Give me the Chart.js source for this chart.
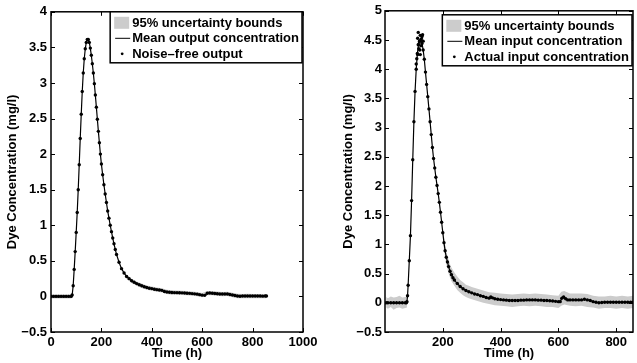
<!DOCTYPE html>
<html>
<head>
<meta charset="utf-8">
<script src="https://cdn.jsdelivr.net/npm/chart.js@4.4.1/dist/chart.umd.min.js"></script>
<style>
  html, body { margin: 0; padding: 0; background: #fff; }
  #wrap { position: relative; width: 637px; height: 363px; overflow: hidden; }
  canvas { position: absolute; top: 0; }
  #left { left: 0; }
  #right { left: 330px; }
</style>
</head>
<body>
<div id="wrap">
  <canvas id="left" width="330" height="363"></canvas>
  <canvas id="right" width="307" height="363"></canvas>
</div>
<script>
// ---- left panel: output concentration ----
const leftT = [0,10,20,30,40,50,60,70,80,84,88,92,96,100,104,108,112,116,120,124,128,132,136,140,144,148,152,156,160,164,168,172,176,180,184,188,192,196,200,205,210,215,220,225,230,235,240,245,250,255,260,270,280,290,300,310,320,330,340,350,360,370,380,390,400,410,420,430,440,450,460,470,480,490,500,510,520,530,540,550,560,570,580,590,600,610,620,630,640,650,660,670,680,690,700,710,720,730,740,750,760,770,780,790,800,810,820,830,840,850,855];
const leftMean = [0,0,0,0,0,0,0,0,0,0.02,0.15,0.38,0.63,0.90,1.18,1.50,1.85,2.22,2.56,2.88,3.14,3.34,3.48,3.57,3.61,3.61,3.57,3.49,3.39,3.27,3.14,2.99,2.83,2.66,2.49,2.32,2.16,2.00,1.86,1.71,1.57,1.44,1.32,1.20,1.10,1.00,0.91,0.82,0.74,0.66,0.59,0.48,0.39,0.33,0.28,0.25,0.22,0.20,0.18,0.165,0.15,0.135,0.125,0.115,0.11,0.10,0.095,0.09,0.085,0.07,0.063,0.058,0.055,0.054,0.053,0.052,0.05,0.048,0.045,0.043,0.04,0.036,0.032,0.025,0.018,0.015,0.045,0.048,0.045,0.042,0.038,0.035,0.033,0.033,0.035,0.028,0.02,0.012,0.006,0.003,0.005,0.005,0.006,0.005,0.005,0.006,0.005,0.005,0.004,0.005,0.005];
// noise-free output sits on the mean curve
const leftNoiseFree = leftMean;
const leftBandT1 = [0,20,40,60,80,84];
const leftBandHi1 = [0.03,0.03,0.03,0.03,0.03,0.05];
const leftBandLo1 = [-0.03,-0.03,-0.03,-0.03,-0.03,-0.02];
const leftBandT2 = [300,320,340,360,380,400,420,440,460,480,500,520,540,560,580,600,620,640,660,680,700,720,740,760,780,800,820,840,855];
const leftBandHi2 = [0.31,0.25,0.21,0.18,0.155,0.14,0.125,0.115,0.093,0.085,0.083,0.08,0.075,0.07,0.062,0.048,0.075,0.075,0.068,0.063,0.065,0.05,0.036,0.035,0.036,0.035,0.035,0.034,0.035];
const leftBandLo2 = [0.25,0.19,0.15,0.12,0.095,0.08,0.065,0.055,0.033,0.025,0.023,0.02,0.015,0.01,0.002,-0.012,0.015,0.015,0.008,0.003,0.005,-0.01,-0.024,-0.025,-0.024,-0.025,-0.025,-0.026,-0.025];
const leftXTicks = [0,200,400,600,800,1000];
const leftYTicks = [-0.5,0,0.5,1,1.5,2,2.5,3,3.5,4];
const leftLegend = ['95% uncertainty bounds','Mean output concentration','Noise\u2013free output'];

// ---- right panel: input concentration ----
const rightT = [4,10,20,30,40,50,60,70,74,76,78,80,84,88,92,96,100,104,108,112,116,120,124,128,132,136,140,144,148,152,156,160,164,168,172,176,180,184,188,192,196,200,204,208,212,216,220,225,230,235,240,250,260,270,280,290,300,310,320,330,340,350,360,366,372,380,390,400,410,420,430,440,450,460,470,480,490,500,510,520,530,540,550,560,570,580,590,600,606,612,618,625,632,640,650,660,670,680,690,700,710,720,730,740,750,760,770,780,790,800,810,820,830,840,850,858];
const rightMean = [0,0,0,0,0,0,0,0,0,0.02,0.12,0.30,0.72,1.15,1.75,2.45,3.10,3.62,4.00,4.27,4.42,4.49,4.49,4.44,4.33,4.17,3.95,3.74,3.53,3.32,3.10,2.88,2.66,2.47,2.31,2.15,2.01,1.87,1.72,1.55,1.38,1.20,1.03,0.89,0.78,0.70,0.62,0.54,0.48,0.43,0.39,0.33,0.28,0.24,0.21,0.19,0.17,0.15,0.14,0.12,0.11,0.09,0.08,0.10,0.085,0.07,0.06,0.055,0.05,0.045,0.04,0.04,0.04,0.04,0.045,0.045,0.05,0.05,0.05,0.05,0.045,0.045,0.04,0.04,0.035,0.03,0.025,0.02,0.02,0.08,0.10,0.07,0.05,0.05,0.05,0.05,0.05,0.05,0.06,0.05,0.04,0.02,0.01,0.0,0.005,0.01,0.01,0.01,0.01,0.01,0.01,0.01,0.01,0.01,0.01,0.01];
// extra scattered samples of the actual input around the peak
const rightPeakT = [108,110,113,113,115,115,117,119,120,122,122,124,126,128,130,132];
const rightPeakV = [4.09,4.18,4.53,4.25,4.63,4.42,4.35,4.47,4.33,4.58,4.25,4.40,4.52,4.56,4.59,4.48];
const rightBandT1 = [4,10,20,30,40,50,60,70,76];
const rightBandHi1 = [0.10,0.08,0.11,0.09,0.10,0.12,0.09,0.10,0.11];
const rightBandLo1 = [-0.08,-0.10,-0.07,-0.12,-0.09,-0.08,-0.10,-0.09,-0.08];
const rightBandT2 = [200,205,210,215,220,225,230,240,250,260,270,280,290,300,320,340,360,380,400,420,440,460,480,500,520,540,560,580,600,610,620,640,660,680,700,720,740,760,780,800,820,840,858];
const rightBandHi2 = [1.30,1.10,0.94,0.82,0.74,0.66,0.60,0.52,0.45,0.39,0.35,0.31,0.29,0.27,0.24,0.21,0.18,0.17,0.16,0.15,0.14,0.15,0.16,0.15,0.16,0.15,0.14,0.13,0.12,0.19,0.20,0.16,0.16,0.16,0.15,0.12,0.11,0.11,0.12,0.11,0.12,0.11,0.12];
const rightBandLo2 = [1.08,0.88,0.72,0.60,0.50,0.43,0.37,0.29,0.22,0.17,0.13,0.10,0.08,0.06,0.03,0.00,-0.02,-0.04,-0.05,-0.06,-0.07,-0.06,-0.05,-0.06,-0.05,-0.06,-0.07,-0.07,-0.09,-0.05,-0.03,-0.05,-0.06,-0.05,-0.07,-0.08,-0.10,-0.09,-0.09,-0.10,-0.09,-0.10,-0.09];
const rightXTicks = [200,400,600,800];
const rightYTicks = [-0.5,0,0.5,1,1.5,2,2.5,3,3.5,4,4.5,5];
const rightLegend = ['95% uncertainty bounds','Mean input concentration','Actual input concentration'];

const FONT = '"Liberation Sans", Arial, Helvetica, sans-serif';
const BAND = '#cccccc';

Chart.defaults.font.family = FONT;
Chart.defaults.font.size = 13;
Chart.defaults.font.weight = 'bold';
Chart.defaults.color = '#000';

const pts = (xs, ys) => xs.map((x, i) => ({x: x, y: ys[i]}));
const fmt = v => v < 0 ? '\u2212' + Math.abs(v) : String(v);

// box round the axes, inward ticks on all four sides, legend in the corner
const frame = {
  id: 'frame',
  afterDraw(chart, args, o) {
    const ctx = chart.ctx, a = chart.chartArea, sx = chart.scales.x, sy = chart.scales.y;
    ctx.save();
    ctx.strokeStyle = '#000';
    ctx.lineWidth = 1;
    ctx.beginPath();
    sx.ticks.forEach(t => {
      const p = Math.round(sx.getPixelForValue(t.value)) + 0.5;
      ctx.moveTo(p, a.bottom); ctx.lineTo(p, a.bottom - 4);
      ctx.moveTo(p, a.top); ctx.lineTo(p, a.top + 4);
    });
    sy.ticks.forEach(t => {
      const p = Math.round(sy.getPixelForValue(t.value)) + 0.5;
      ctx.moveTo(a.left, p); ctx.lineTo(a.left + 4, p);
      ctx.moveTo(a.right, p); ctx.lineTo(a.right - 4, p);
    });
    ctx.stroke();
    ctx.lineWidth = 1.5;
    ctx.strokeRect(a.left, a.top, a.right - a.left, a.bottom - a.top);

    // legend
    ctx.font = 'bold 13px ' + FONT;
    const tw = Math.max(...o.labels.map(t => ctx.measureText(t).width));
    const w = 22 + tw + 3, h = 51;
    const x0 = a.right - 1 - w, y0 = a.top + o.dy;
    ctx.fillStyle = '#fff';
    ctx.fillRect(x0, y0, w, h);
    ctx.lineWidth = 1.5;
    ctx.strokeRect(x0, y0, w, h);
    const rows = [11, 26.5, 42];
    ctx.fillStyle = BAND;
    ctx.fillRect(x0 + 4, y0 + rows[0] - 6, 15, 12);
    ctx.lineWidth = 1;
    ctx.beginPath();
    ctx.moveTo(x0 + 5, y0 + rows[1]); ctx.lineTo(x0 + 20, y0 + rows[1]);
    ctx.stroke();
    ctx.fillStyle = '#000';
    ctx.beginPath();
    ctx.arc(x0 + 12, y0 + rows[2], 1.4, 0, Math.PI * 2);
    ctx.fill();
    ctx.textBaseline = 'middle';
    ctx.textAlign = 'left';
    o.labels.forEach((t, i) => ctx.fillText(t, x0 + 22, y0 + rows[i] + 0.5));
    ctx.restore();
  }
};

function bandPair(xs, hi, lo) {
  return [
    {data: pts(xs, hi), borderColor: 'rgba(0,0,0,0)', borderWidth: 0, pointRadius: 0, fill: '+1', backgroundColor: BAND, tension: 0},
    {data: pts(xs, lo), borderColor: 'rgba(0,0,0,0)', borderWidth: 0, pointRadius: 0, fill: false}
  ];
}

function makeChart(id, cfg) {
  return new Chart(document.getElementById(id), {
    type: 'line',
    data: {
      datasets: [
        {label: cfg.legend[2], data: cfg.dots, showLine: false, pointRadius: 1.7, pointBackgroundColor: '#000', pointBorderWidth: 0},
        {label: cfg.legend[1], data: cfg.mean, borderColor: '#000', borderWidth: 1.2, pointRadius: 0, fill: false},
        ...bandPair(cfg.b1[0], cfg.b1[1], cfg.b1[2]),
        ...bandPair(cfg.b2[0], cfg.b2[1], cfg.b2[2])
      ]
    },
    options: {
      responsive: false,
      animation: false,
      layout: {padding: cfg.pad},
      plugins: {
        legend: {display: false},
        tooltip: {enabled: false},
        frame: {labels: cfg.legend, dy: cfg.legendDy}
      },
      scales: {
        x: {
          type: 'linear',
          min: cfg.xMin, max: cfg.xMax,
          grid: {display: false, drawTicks: false},
          border: {display: false},
          afterBuildTicks: s => { s.ticks = cfg.xTicks.map(v => ({value: v})); },
          afterFit: s => { s.height = 31; },
          ticks: {padding: 3, maxRotation: 0, autoSkip: false, callback: v => fmt(v)},
          title: {display: true, text: 'Time (h)', padding: {top: 0, bottom: 2}}
        },
        y: {
          min: cfg.yMin, max: cfg.yMax,
          grid: {display: false, drawTicks: false},
          border: {display: false},
          afterBuildTicks: s => { s.ticks = cfg.yTicks.map(v => ({value: v})); },
          afterFit: s => { s.width = cfg.yWidth; },
          ticks: {padding: cfg.yPad, autoSkip: false, callback: v => fmt(v)},
          title: {display: true, text: 'Dye Concentration (mg/l)', padding: {top: cfg.yTitlePad, bottom: 0}}
        }
      }
    },
    plugins: [frame]
  });
}

makeChart('left', {
  dots: pts(leftT, leftNoiseFree),
  mean: pts(leftT, leftMean),
  b1: [leftBandT1, leftBandHi1, leftBandLo1],
  b2: [leftBandT2, leftBandHi2, leftBandLo2],
  legend: leftLegend, legendDy: 0,
  xMin: 0, xMax: 1000, xTicks: leftXTicks,
  yMin: -0.5, yMax: 4, yTicks: leftYTicks,
  yWidth: 51, yPad: 4, yTitlePad: 5,
  pad: {left: 0, top: 11, right: 27, bottom: 0}
});

makeChart('right', {
  dots: pts(rightT, rightMean).concat(pts(rightPeakT, rightPeakV)),
  mean: pts(rightT, rightMean),
  b1: [rightBandT1, rightBandHi1, rightBandLo1],
  b2: [rightBandT2, rightBandHi2, rightBandLo2],
  legend: rightLegend, legendDy: 4,
  xMin: 0, xMax: 858, xTicks: rightXTicks,
  yMin: -0.5, yMax: 5, yTicks: rightYTicks,
  yWidth: 55, yPad: 3, yTitlePad: 11,
  pad: {left: 0, top: 9, right: 1, bottom: 0}
});
</script>
</body>
</html>
